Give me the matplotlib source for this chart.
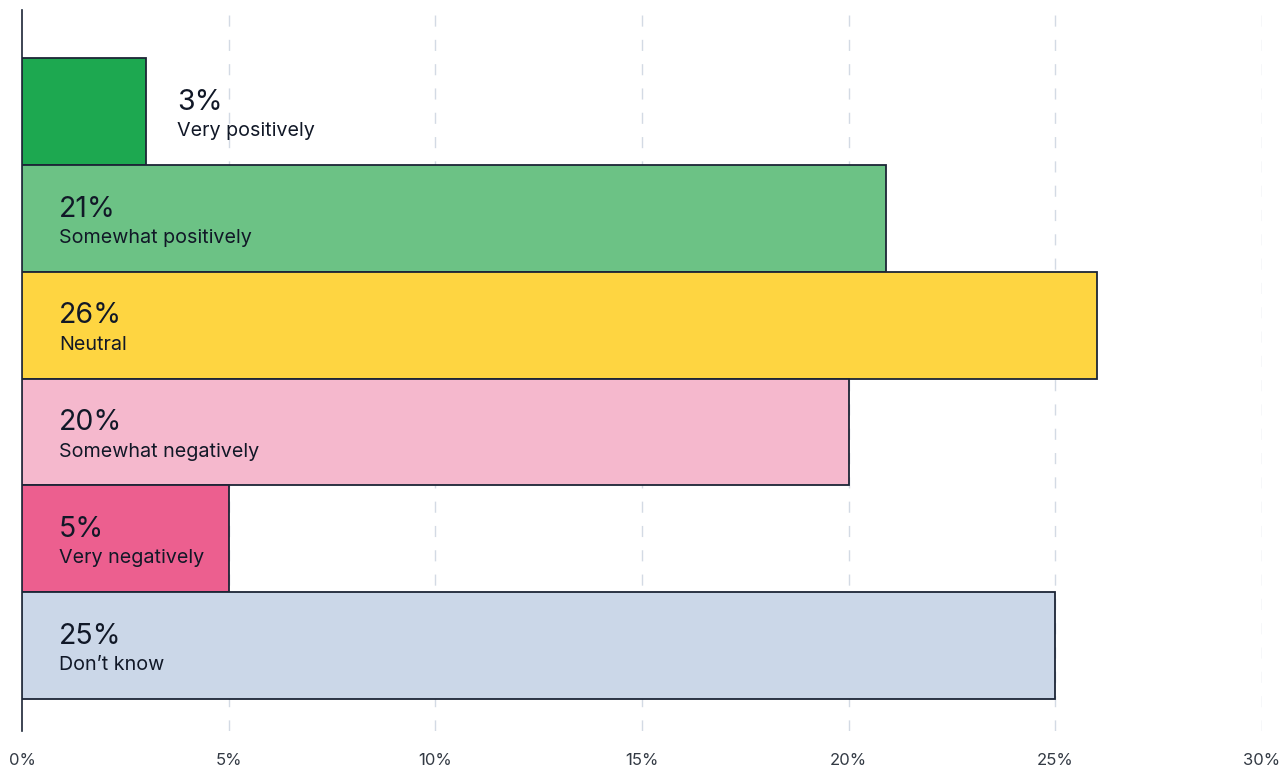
import matplotlib.pyplot as plt
from matplotlib.ticker import FuncFormatter

# ─────────── data ───────────
categories = ['Very positively', 'Somewhat positively', 'Neutral',
              'Somewhat negatively', 'Very negatively', 'Don\u2019t know']
values = [3.0, 20.9, 26.0, 20.0, 5.0, 25.0]
value_labels = ['3%', '21%', '26%', '20%', '5%', '25%']
colors = ['#1da850', '#6cc285', '#fed541', '#f5b8cd', '#ec5f8f', '#cbd7e8']
xticks = [0, 5, 10, 15, 20, 25, 30]

plt.rcParams['font.family'] = ['Inter', 'DejaVu Sans']

fig = plt.figure(figsize=(12.83, 7.67), dpi=100)
ax = fig.add_axes([22 / 1283, 36 / 767, 1240 / 1283, 721 / 767])

ypos = list(range(len(categories)))
ax.barh(ypos, values, height=1.0, color=colors, edgecolor='#1c2536',
        linewidth=1.3, zorder=3)

text_col = '#111827'
for y, v, vl, cat in zip(ypos, values, value_labels, categories):
    # small bars get the label outside, the rest inside near the axis
    x = v + 0.75 if v < 4 else 0.9
    ax.text(x, y + 0.04, vl, fontsize=20.5, color=text_col, va='bottom', ha='left', zorder=4)
    ax.text(x, y + 0.10, cat, fontsize=14.2, color=text_col, va='top', ha='left', zorder=4)

ax.set_xlim(0, 30)
ax.set_ylim(5.8, -0.95)
ax.set_xticks(xticks)
ax.xaxis.set_major_formatter(FuncFormatter(lambda v, p: f'{v:.0f}%'))
ax.tick_params(axis='x', length=0, pad=16, labelsize=12, labelcolor='#333a44')
ax.set_yticks([])

for t in xticks[1:]:
    ax.axvline(t, color='#d3dae4', linewidth=1.0, dashes=(8, 9.5), zorder=1)

for s in ['top', 'right', 'bottom']:
    ax.spines[s].set_visible(False)
ax.spines['left'].set_color('#1c2536')
ax.spines['left'].set_linewidth(1.2)

fig.savefig('out.png', dpi=100)
